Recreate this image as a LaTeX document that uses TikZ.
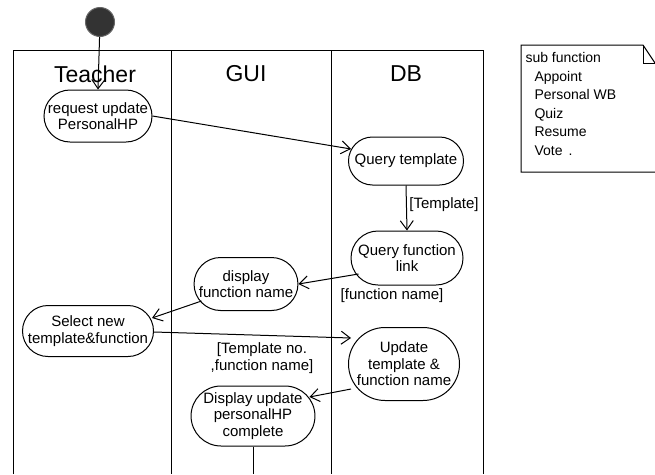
\documentclass[tikz,border=0pt]{standalone}
\usepackage{fontspec}
\setmainfont{Liberation Sans}
\usepackage{tikz}
\usetikzlibrary{arrows.meta, positioning, calc, shapes.misc}

\begin{document}
\begin{tikzpicture}[
  x=1pt, y=-1pt,
  line width=1pt,
  lane/.style={font=\fontsize{23}{26}\selectfont},
  act/.style={rounded rectangle, draw, align=center, inner sep=1pt, font=\fontsize{15}{16.5}\selectfont},
  lbl/.style={align=center, font=\fontsize{15}{16.5}\selectfont, inner sep=1pt},
  arr/.style={-{Straight Barb[length=9pt, width=13pt, line width=1pt]}}
]
\useasboundingbox (0,0) rectangle (655,474);

% swimlanes
\draw (13,474) -- (13,50) -- (483,50) -- (483,474);
\draw (171,50) -- (171,474);
\draw (331,50) -- (331,474);
\node[lane] (teacher) at (95,74) {Teacher};
\node[lane] (gui) at (246,74) {GUI};
\node[lane] (db) at (406,74) {DB};

\node[circle, fill=black!80, draw=black!60, minimum size=29pt, inner sep=0pt] (start) at (100,22) {};

\node[act, minimum width=110pt, minimum height=52pt] (req) at (98,116) {request update\\PersonalHP};
\node[act, minimum width=117pt, minimum height=48pt] (qtpl) at (406,161) {Query template};
\node[act, minimum width=114pt, minimum height=54pt] (qfun) at (407,258) {Query function\\link};
\node[act, minimum width=101pt, minimum height=53pt] (disp) at (246,284) {display\\function name};
\node[act, minimum width=133pt, minimum height=51pt] (sel) at (88,331) {Select new\\template\&function};
\node[act, minimum width=108pt, minimum height=73pt] (upd) at (404,364) {Update\\template \&\\function name};
\node[act, minimum width=114pt, minimum height=60pt] (done) at (253,416) {Display update\\personalHP\\complete};
\coordinate (fin) at (253,474);

\node[lbl] (ltpl) at (444,205) {[Template]};
\node[lbl] (lfun) at (392,296) {[function name]};
\node[lbl] (lsel) at (262,358) {[Template no.\\,function name]};

% note
\draw (655,63) -- (643,45) -- (521,45) -- (521,172) -- (655,172);
\draw (643,45) -- (643,63) -- (655,63);
\node[lbl, anchor=north west, align=left, font=\fontsize{14}{18.5}\selectfont] (note) at (524,51)
  {sub function\\\hspace{9pt}Appoint\\\hspace{9pt}Personal WB\\\hspace{9pt}Quiz\\\hspace{9pt}Resume\\\hspace{9pt}Vote\hspace{6pt}.};

\draw[arr] (start) -- (req.north);
\draw[arr] (req.east) -- ([xshift=3pt,yshift=12pt]qtpl.west);
\draw[arr] (qtpl.south) -- (qfun.north);
\draw[arr] ([xshift=8pt,yshift=-16pt]qfun.west) -- (disp.east);
\draw[arr] ([xshift=8pt,yshift=-17pt]disp.west) -- ([xshift=-2pt,yshift=13pt]sel.east);
\draw[arr] ([yshift=-1pt]sel.east) -- ([xshift=3pt,yshift=26pt]upd.west);
\draw[arr] ([xshift=3pt,yshift=-25pt]upd.west) -- ([xshift=-6pt,yshift=19pt]done.east);
\draw (done.south) -- (fin);
\end{tikzpicture}
\end{document}
